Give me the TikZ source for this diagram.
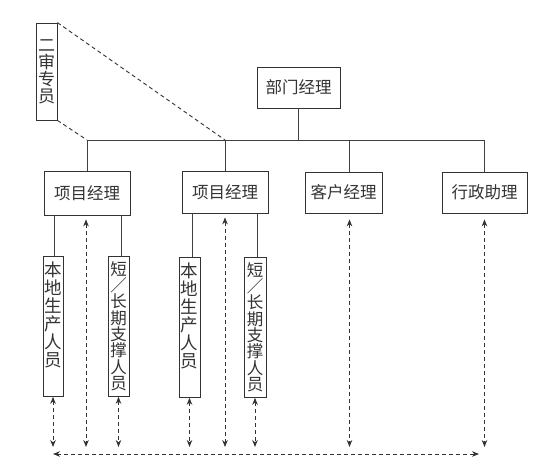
\documentclass[tikz,border=0pt]{standalone}
\usepackage{fontspec}
\setmainfont{Noto Sans CJK SC}
\usetikzlibrary{arrows.meta}
\begin{document}
\begin{tikzpicture}[x=1pt,y=-1pt,
  box/.style={draw=black!80, line width=0.8pt, inner sep=0pt, text=black!80,
    font=\fontsize{16.5}{17}\selectfont, align=center},
  vbox/.style={draw=black!80, line width=0.8pt, inner sep=0pt, anchor=north, text=black!80},
  conn/.style={draw=black!75, line width=0.7pt},
  dline/.style={draw=black!80, line width=0.9pt, dash pattern=on 4pt off 3pt},
  darr/.style={dline, {Stealth[length=7pt,width=5.5pt]}-{Stealth[length=7pt,width=5.5pt]}}
]
\useasboundingbox (0,0) rectangle (538,471);
\fill[white] (0,0) rectangle (538,471);

% top-level boxes
\node[box, minimum width=83pt, minimum height=41pt] (dept) at (298.5,87.5) {部门经理};
\node[box, minimum width=21pt, minimum height=97pt, font=\fontsize{17}{17}\selectfont] (audit) at (46.5,71.5) {二\\审\\专\\员};
\node[box, minimum width=86pt, minimum height=44pt] (pm1) at (87,193) {项目经理};
\node[box, minimum width=86pt, minimum height=42pt] (pm2) at (225,192) {项目经理};
\node[box, minimum width=77pt, minimum height=41pt] (cm) at (343.5,192.5) {客户经理};
\node[box, minimum width=85pt, minimum height=41pt] (adm) at (484.5,192.5) {行政助理};

% vertical staff boxes
\node[vbox] (l1) at (53,256) {\parbox[t][140pt][t]{20pt}{\vspace*{5pt}\centering\fontsize{17.5}{18}\selectfont 本\\地\\生\\产\\人\\员}};
\node[vbox] (s1) at (118.5,256) {\parbox[t][140pt][t]{21pt}{\vspace*{5pt}\centering\fontsize{16.5}{16.3}\selectfont 短\\／\\长\\期\\支\\撑\\人\\员}};
\node[vbox] (l2) at (189.5,257) {\parbox[t][140pt][t]{21pt}{\vspace*{5pt}\centering\fontsize{17.5}{18}\selectfont 本\\地\\生\\产\\人\\员}};
\node[vbox] (s2) at (255,257) {\parbox[t][140pt][t]{22pt}{\vspace*{5pt}\centering\fontsize{16.5}{16.3}\selectfont 短\\／\\长\\期\\支\\撑\\人\\员}};

% helper coordinates
\coordinate (bus) at (0,140);
\coordinate (bot) at (0,447);
\coordinate (hL) at (53,454);
\coordinate (hR) at (479,454);

% solid tree
\draw[conn] (dept.south) -- (dept.south |- bus);
\draw[conn] (pm1.north) -- (pm1.north |- bus) -- (adm.north |- bus) -- (adm.north);
\draw[conn] (pm2.north) -- (pm2.north |- bus);
\draw[conn] ([xshift=6pt]cm.north) -- ([xshift=6pt]cm.north |- bus);
\draw[conn] ([xshift=1pt]l1.north) -- ([xshift=1pt]l1.north |- pm1.south);
\draw[conn] ([xshift=2.5pt]s1.north) -- ([xshift=2.5pt]s1.north |- pm1.south);
\draw[conn] ([xshift=3pt]l2.north) -- ([xshift=3pt]l2.north |- pm2.south);
\draw[conn] ([xshift=2pt]s2.north) -- ([xshift=2pt]s2.north |- pm2.south);

% audit dashed links
\draw[dline] (audit.north east) -- (pm2.north |- bus);
\draw[dline] (audit.south east) -- (pm1.north |- bus);

% dashed two-way arrows
\draw[darr] (l1.south) -- (l1.south |- bot);
\draw[darr] (s1.south) -- (s1.south |- bot);
\draw[darr] (l2.south) -- (l2.south |- bot);
\draw[darr] (s2.south) -- (s2.south |- bot);
\draw[darr, shorten <=4pt] ([xshift=-1pt]pm1.south) -- ([xshift=-1pt]pm1.south |- bot);
\draw[darr, shorten <=4pt] (pm2.south) -- (pm2.south |- bot);
\draw[darr, shorten <=6pt] ([xshift=6pt]cm.south) -- ([xshift=6pt]cm.south |- bot);
\draw[darr, shorten <=6pt] (adm.south) -- (adm.south |- bot);
\draw[darr] (hL) -- (hR);
\end{tikzpicture}
\end{document}
